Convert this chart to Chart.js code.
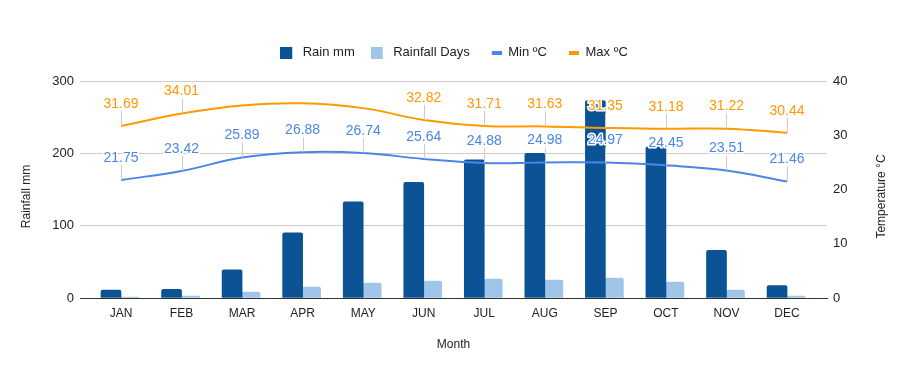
<!DOCTYPE html>
<html>
<head>
<meta charset="utf-8">
<script src="https://cdn.jsdelivr.net/npm/chart.js@4.4.1/dist/chart.umd.min.js"></script>
<style>
  html, body { margin: 0; padding: 0; background: #fff; }
  #wrap { width: 908px; height: 371px; }
</style>
</head>
<body>
<div id="wrap"><canvas id="rainChart"></canvas></div>
<script>
// Data bulanan
const months = ['JAN', 'FEB', 'MAR', 'APR', 'MAY', 'JUN', 'JUL', 'AUG', 'SEP', 'OCT', 'NOV', 'DEC'];
const rainMm = [11, 12, 39, 90, 133, 160, 191, 200, 273, 209, 66, 17];
const rainDays = [1.4, 2.8, 8.3, 15.2, 20.7, 23.5, 26.3, 24.9, 27.6, 22.1, 11, 2.8];
const minTemp = [21.75, 23.42, 25.89, 26.88, 26.74, 25.64, 24.88, 24.98, 24.97, 24.45, 23.51, 21.46];
const maxTemp = [31.69, 34.01, 35.5, 35.9, 35.0, 32.82, 31.71, 31.63, 31.35, 31.18, 31.22, 30.44];
const rainTicks = [0, 100, 200, 300];
const tempTicks = [0, 10, 20, 30, 40];

const FONT = '"Liberation Sans", Arial, sans-serif';
Chart.defaults.font.family = FONT;
Chart.defaults.color = '#222';

// kotak kecil untuk legend (canvas 16px, sisanya transparan)
function swatch(x0, w, h, color) {
    const c = document.createElement('canvas');
    c.width = 16;
    c.height = h;
    const g = c.getContext('2d');
    g.fillStyle = color;
    g.fillRect(x0, 0, w, h);
    return c;
}

const toPoints = arr => arr.map((v, i) => ({ x: i, y: v }));

// label angka di atas garis, dengan garis penunjuk
const pointLabels = {
    id: 'pointLabels',
    afterDatasetsDraw(chart) {
        const ctx = chart.ctx;
        const top = chart.chartArea.top;
        ctx.save();
        ctx.font = '14px ' + FONT;
        ctx.textAlign = 'center';
        ctx.textBaseline = 'middle';
        chart.data.datasets.forEach((ds, di) => {
            if (ds.type !== 'line') return;
            const meta = chart.getDatasetMeta(di);
            meta.data.forEach((pt, i) => {
                const ty = pt.y - 22;
                if (ty - 7 < top) return; // disembunyikan kalau keluar area
                const lx = Math.round(pt.x) + 0.5;
                ctx.strokeStyle = '#cccccc';
                ctx.lineWidth = 1;
                ctx.beginPath();
                ctx.moveTo(lx, pt.y);
                ctx.lineTo(lx, ty + 7);
                ctx.stroke();
                const txt = ds.data[i].y.toFixed(2);
                ctx.strokeStyle = '#ffffff';
                ctx.lineWidth = 3;
                ctx.lineJoin = 'round';
                ctx.strokeText(txt, pt.x, ty);
                ctx.fillStyle = ds.borderColor;
                ctx.fillText(txt, pt.x, ty);
            });
        });
        ctx.restore();
    }
};

// judul sumbu Y (kiri dan kanan, diputar -90)
const axisTitles = {
    id: 'axisTitles',
    afterDraw(chart) {
        const ctx = chart.ctx;
        ctx.save();
        ctx.font = '12px ' + FONT;
        ctx.fillStyle = '#222';
        ctx.textAlign = 'center';
        ctx.textBaseline = 'middle';
        [[27, 'Rainfall mm'], [882, 'Temperature °C']].forEach(([x, t]) => {
            ctx.save();
            ctx.translate(x, 196.5);
            ctx.rotate(-Math.PI / 2);
            ctx.fillText(t, 0, 0);
            ctx.restore();
        });
        ctx.restore();
    }
};

const rainChart = new Chart(document.getElementById('rainChart').getContext('2d'), {
    type: 'bar',
    data: {
        datasets: [{
            type: 'bar',
            label: 'Rain mm',
            data: toPoints(rainMm),
            backgroundColor: '#0b5394',
            barThickness: 20,
            borderRadius: 2,
            yAxisID: 'y',
            order: 2
        }, {
            type: 'bar',
            label: 'Rainfall Days',
            data: toPoints(rainDays),
            backgroundColor: '#9fc5e8',
            barThickness: 18,
            borderRadius: 2,
            yAxisID: 'y',
            order: 2
        }, {
            type: 'line',
            label: 'Min ºC',
            data: toPoints(minTemp),
            borderColor: '#4a86e8',
            backgroundColor: '#4a86e8',
            borderWidth: 2,
            tension: 0.4,
            pointRadius: 0,
            fill: false,
            yAxisID: 'y1',
            order: 1
        }, {
            type: 'line',
            label: 'Max ºC',
            data: toPoints(maxTemp),
            borderColor: '#ff9900',
            backgroundColor: '#ff9900',
            borderWidth: 2,
            tension: 0.4,
            pointRadius: 0,
            fill: false,
            yAxisID: 'y1',
            order: 1
        }]
    },
    options: {
        responsive: true,
        maintainAspectRatio: false,
        animation: false,
        events: [],
        layout: { padding: { top: 30, left: 0, right: 0, bottom: 0 } },
        plugins: {
            tooltip: { enabled: false },
            title: { display: true, text: '', weight: 500, padding: 0, font: { size: 10 } },
            legend: {
                position: 'top',
                labels: {
                    usePointStyle: true,
                    pointStyleWidth: 16,
                    boxWidth: 16,
                    boxHeight: 12,
                    padding: 16,
                    color: '#222',
                    font: { size: 13 },
                    generateLabels: chart => chart.data.datasets.map((ds, i) => ({
                        text: ds.label,
                        pointStyle: ds.type === 'line' ? swatch(6, 10, 4, ds.borderColor) : swatch(0, 12, 12, ds.backgroundColor),
                        fillStyle: ds.backgroundColor,
                        strokeStyle: ds.backgroundColor,
                        lineWidth: 0,
                        hidden: false,
                        datasetIndex: i,
                        fontColor: '#222'
                    }))
                }
            }
        },
        scales: {
            x: {
                type: 'linear',
                offset: false,
                min: -0.677,
                max: 11.66,
                afterFit: scale => { scale.height = 73; },
                grid: { display: false, offset: false },
                border: { display: true, color: '#333', width: 1 },
                ticks: {
                    stepSize: 1,
                    includeBounds: false,
                    autoSkip: false,
                    maxRotation: 0,
                    padding: 0,
                    font: { size: 12 },
                    color: '#222',
                    callback: v => months[v] !== undefined ? months[v] : ''
                },
                title: { display: true, text: 'Month', font: { size: 12 }, color: '#222', padding: { top: 0, bottom: 19 } }
            },
            y: {
                position: 'left',
                min: rainTicks[0],
                max: rainTicks[rainTicks.length - 1],
                afterFit: scale => { scale.width = 80; },
                afterBuildTicks: scale => { scale.ticks = rainTicks.map(v => ({ value: v })); },
                grid: {
                    drawTicks: false,
                    color: c => c.tick && c.tick.value === 0 ? '#333' : '#cccccc'
                },
                border: { display: false },
                ticks: { padding: 6, font: { size: 13 }, color: '#222' }
            },
            y1: {
                position: 'right',
                min: tempTicks[0],
                max: tempTicks[tempTicks.length - 1],
                afterFit: scale => { scale.width = 81; },
                afterBuildTicks: scale => { scale.ticks = tempTicks.map(v => ({ value: v })); },
                grid: { display: false, drawTicks: false },
                border: { display: false },
                ticks: { padding: 6, font: { size: 13 }, color: '#222' }
            }
        }
    },
    plugins: [pointLabels, axisTitles]
});
</script>
</body>
</html>
